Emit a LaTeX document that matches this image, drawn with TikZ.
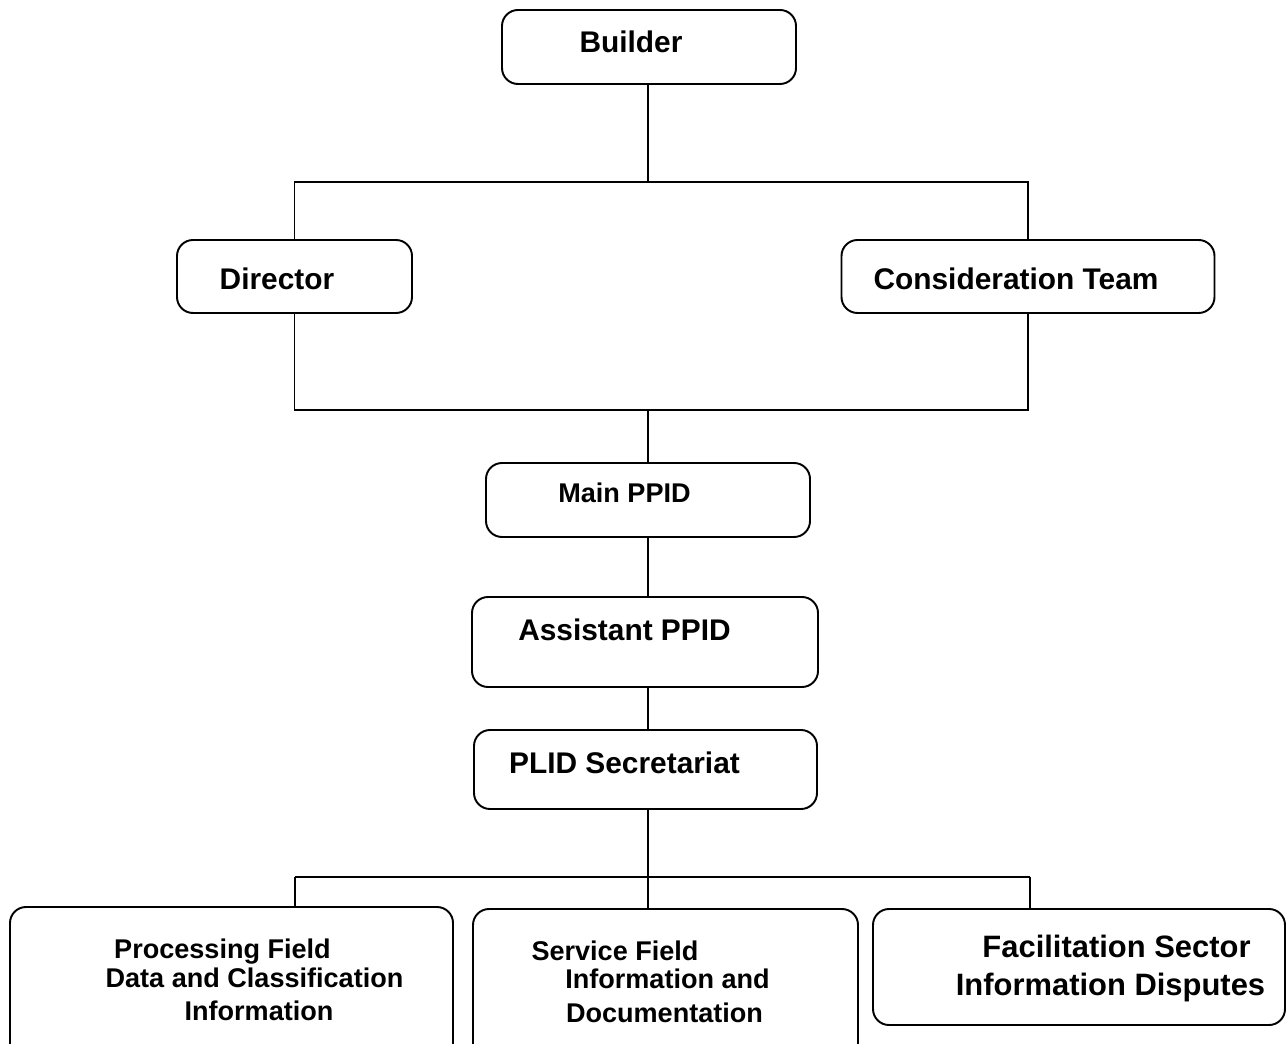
\documentclass[tikz,border=0pt]{standalone}
\usepackage{fontspec}
\setmainfont{Liberation Sans}
\usetikzlibrary{positioning}

\begin{document}
\begin{tikzpicture}[
		% Styles
		unit/.style={rectangle, draw=black, fill=white, line width=1.1pt, rounded corners=0.32cm},
		txt/.style={anchor=base, inner sep=0pt, font=\fontsize{17}{20}\selectfont\bfseries},
		txtsmall/.style={anchor=base, inner sep=0pt, font=\fontsize{15.4}{18}\selectfont\bfseries},
		txtbig/.style={anchor=base, inner sep=0pt, font=\fontsize{17.6}{20}\selectfont\bfseries},
		% Lines
		link/.style={line width=1.1pt, black},
		]

		% Page
		\clip (0,0) rectangle (25.72,20.86);

		% Builder
		\node[unit, minimum width=5.88cm, minimum height=1.48cm] (builder) at (12.98,19.92) {};
		\node[txt] at (12.62,19.80) {Builder};

		% Director and consideration team
		\node[unit, minimum width=4.70cm, minimum height=1.46cm] (director) at (5.89,15.33) {};
		\node[txt] at (5.54,15.06) {Director};

		\node[unit, minimum width=7.46cm, minimum height=1.46cm] (team) at (20.56,15.33) {};
		\node[txt] at (20.32,15.06) {Consideration Team};

		% Main PPID
		\node[unit, minimum width=6.48cm, minimum height=1.48cm] (main) at (12.96,10.86) {};
		\node[txtsmall] at (12.49,10.80) {Main PPID};

		% Assistant PPID
		\node[unit, minimum width=6.92cm, minimum height=1.80cm] (assistant) at (12.90,8.02) {};
		\node[txt] at (12.49,8.06) {Assistant PPID};

		% PLID Secretariat
		\node[unit, minimum width=6.86cm, minimum height=1.58cm] (secretariat) at (12.91,5.47) {};
		\node[txt] at (12.49,5.40) {PLID Secretariat};

		% Fields
		\node[unit, minimum width=8.86cm, minimum height=3.16cm] (field1) at (4.63,1.14) {};
		\node[txtsmall] at (4.45,1.70) {Processing Field};
		\node[txtsmall] at (5.09,1.12) {Data and Classification};
		\node[txtsmall] at (5.18,0.46) {Information};

		\node[unit, minimum width=7.70cm, minimum height=3.12cm] (field2) at (13.31,1.12) {};
		\node[txtsmall] at (12.30,1.66) {Service Field};
		\node[txtsmall] at (13.35,1.10) {Information and};
		\node[txtsmall] at (13.29,0.42) {Documentation};

		\node[unit, minimum width=8.24cm, minimum height=2.32cm] (facil) at (21.58,1.52) {};
		\node[txtbig] at (22.33,1.72) {Facilitation Sector};
		\node[txtbig] at (22.21,0.96) {Information Disputes};

		% Junctions
		\coordinate (splitTop) at (12.96,17.22);
		\coordinate (joinMid) at (12.96,12.66);
		\coordinate (splitBot) at (12.96,3.32);
		\coordinate (dropA) at (5.90,3.32);
		\coordinate (dropC) at (20.60,3.32);

		% Connections
		% Builder -> Director, Consideration Team
		\draw[link] (builder.south -| splitTop) -- (splitTop);
		\draw[link] (splitTop) -| (director);
		\draw[link] (splitTop) -| (team);

		% Director, Consideration Team -> Main PPID
		\draw[link] (director) |- (joinMid);
		\draw[link] (team) |- (joinMid);
		\draw[link] (joinMid) -- (main);

		% Main PPID -> Assistant PPID -> PLID Secretariat
		\draw[link] (main.south -| joinMid) -- (assistant.north -| joinMid);
		\draw[link] (assistant.south -| joinMid) -- (secretariat.north -| joinMid);

		% PLID Secretariat -> fields
		\draw[link] (secretariat.south -| splitBot) -- (splitBot);
		\draw[link] (dropA) -- (dropC);
		\draw[link] (dropA) -- (dropA |- field1.north);
		\draw[link] (splitBot) -- (splitBot |- field2.north);
		\draw[link] (dropC) -- (dropC |- facil.north);

	\end{tikzpicture}
\end{document}
